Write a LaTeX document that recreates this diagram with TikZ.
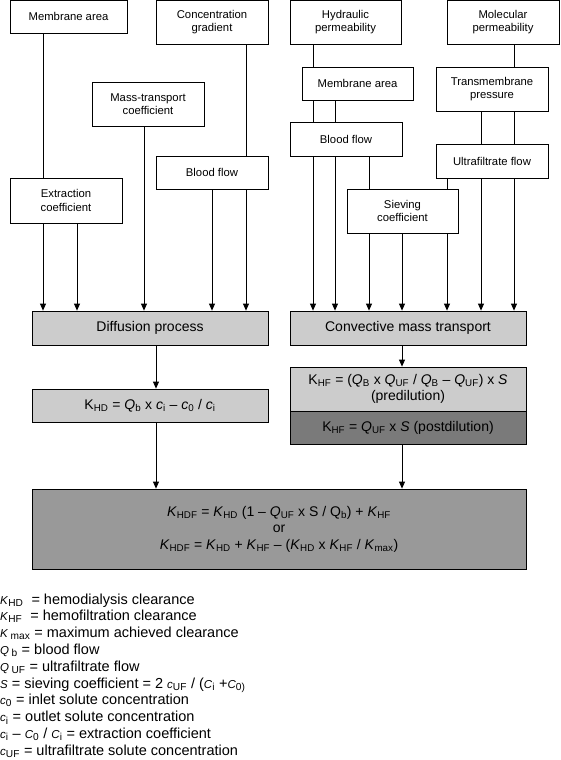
\documentclass[tikz,border=0pt]{standalone}
\usepackage{fontspec}
\setmainfont{Liberation Sans}
\usetikzlibrary{arrows.meta}
\definecolor{boxlight}{gray}{0.80}
\definecolor{boxdark}{gray}{0.48}
\definecolor{boxmid}{gray}{0.60}
\newcommand\dn[1]{\textsubscript{#1}}
\newcommand\iv[1]{{\fontsize{11.5}{12}\selectfont\textit{#1}}}
\begin{document}
\begin{tikzpicture}[x=1pt,y=-1pt,
  sbox/.style={draw=black, line width=0.8pt, fill=white, align=center, inner sep=1pt,
    font=\fontsize{11.3}{13.5}\selectfont},
  gbox/.style={draw=black, line width=0.8pt, fill=boxlight, align=center, inner sep=1pt,
    font=\fontsize{14}{16}\selectfont},
  wire/.style={line width=0.8pt},
  arr/.style={line width=0.8pt, -{Triangle[width=6pt,length=7pt]}},
  legend/.style={anchor=base west, inner sep=0pt, font=\fontsize{14.5}{15}\selectfont}]
\useasboundingbox (0,0) rectangle (560,760);
% top left group
\node[sbox, minimum width=117pt, minimum height=32.5pt] (MA1) at (68.5,16.75) {Membrane area};
\node[sbox, minimum width=112pt, minimum height=43.5pt] (CG) at (212,22.25) {Concentration\\gradient};
\node[sbox, minimum width=112pt, minimum height=44pt] (MT) at (148,104) {Mass-transport\\coefficient};
\node[sbox, minimum width=112pt, minimum height=33pt] (BF1) at (212,172.5) {Blood flow};
\node[sbox, minimum width=112pt, minimum height=45pt] (EC) at (66,200.5) {Extraction\\coefficient};
% top right group
\node[sbox, minimum width=111pt, minimum height=43.5pt] (HP) at (345.5,22.25) {Hydraulic\\permeability};
\node[sbox, minimum width=112pt, minimum height=43.5pt] (MP) at (503,22.25) {Molecular\\permeability};
\node[sbox, minimum width=111pt, minimum height=33pt] (MA2) at (357.5,83.5) {Membrane area};
\node[sbox, minimum width=112pt, minimum height=44pt] (TP) at (492,89) {Transmembrane\\pressure};
\node[sbox, minimum width=112pt, minimum height=34pt] (BF2) at (346,139) {Blood flow};
\node[sbox, minimum width=112pt, minimum height=34pt] (UF) at (492,161) {Ultrafiltrate flow};
\node[sbox, minimum width=111pt, minimum height=44pt] (SC) at (402.5,211) {Sieving\\coefficient};
% process boxes
\node[gbox, minimum width=236pt, minimum height=34pt] (DP) at (150,328) {Diffusion process};
\node[gbox, minimum width=236pt, minimum height=34pt] (CMT) at (408,328) {Convective mass transport};
\node[gbox, minimum width=236pt, minimum height=33pt] (KHD) at (150,405.5)
  {K\dn{HD} = \textit{Q}\dn{b} x \textit{c}\dn{i} – \textit{c}\dn{0} / \textit{c}\dn{i}};
\node[gbox, minimum width=236pt, minimum height=44pt] (KHF1) at (408,389)
  {K\dn{HF} = (\textit{Q}\dn{B} x \textit{Q}\dn{UF} / \textit{Q}\dn{B} – \textit{Q}\dn{UF}) x \textit{S}\\(predilution)};
\node[gbox, fill=boxdark, minimum width=236pt, minimum height=33pt] (KHF2) at (408,427.5)
  {K\dn{HF} = \textit{Q}\dn{UF} x \textit{S} (postdilution)};
\node[gbox, fill=boxmid, minimum width=494pt, minimum height=80pt, font=\fontsize{14}{16.5}\selectfont] (HDF) at (279,529)
  {\textit{K}\dn{HDF} = \textit{K}\dn{HD} (1 – \textit{Q}\dn{UF} x S / Q\dn{b}) + \textit{K}\dn{HF}\\
   or\\
   \textit{K}\dn{HDF} = \textit{K}\dn{HD} + \textit{K}\dn{HF} – (\textit{K}\dn{HD} x \textit{K}\dn{HF} / \textit{K}\dn{max})};
% left connectors
\draw[wire] (MA1.south -| 43,0) -- (EC.north -| 43,0);
\draw[arr] (EC.south -| 43,0) -- (DP.north -| 43,0);
\draw[arr] (EC.south -| 77,0) -- (DP.north -| 77,0);
\draw[arr] (MT.south -| 144,0) -- (DP.north -| 144,0);
\draw[wire] (CG.south -| 246,0) -- (BF1.north -| 246,0);
\draw[arr] (BF1.south -| 212,0) -- (DP.north -| 212,0);
\draw[arr] (BF1.south -| 246,0) -- (DP.north -| 246,0);
% right connectors
\draw[wire] (HP.south -| 313,0) -- (MA2.north -| 313,0);
\draw[wire] (MA2.south -| 313,0) -- (BF2.north -| 313,0);
\draw[wire] (MA2.south -| 335,0) -- (BF2.north -| 335,0);
\draw[arr] (BF2.south -| 313,0) -- (CMT.north -| 313,0);
\draw[arr] (BF2.south -| 335,0) -- (CMT.north -| 335,0);
\draw[wire] (BF2.south -| 369,0) -- (SC.north -| 369,0);
\draw[arr] (SC.south -| 369,0) -- (CMT.north -| 369,0);
\draw[arr] (SC.south -| 402,0) -- (CMT.north -| 402,0);
\draw[arr] (SC.south -| 447,0) -- (CMT.north -| 447,0);
\draw[wire] (UF.south -| 447,0) -- (SC.north -| 447,0);
\draw[arr] (UF.south -| 481,0) -- (CMT.north -| 481,0);
\draw[arr] (UF.south -| 514,0) -- (CMT.north -| 514,0);
\draw[wire] (MP.south -| 514,0) -- (TP.north -| 514,0);
\draw[wire] (TP.south -| 481,0) -- (UF.north -| 481,0);
\draw[wire] (TP.south -| 514,0) -- (UF.north -| 514,0);
% lower connectors
\draw[arr] (DP.south -| 156,0) -- (KHD.north -| 156,0);
\draw[arr] (KHD.south -| 156,0) -- (HDF.north -| 156,0);
\draw[arr] (CMT.south -| 402,0) -- (KHF1.north -| 402,0);
\draw[arr] (KHF2.south -| 402,0) -- (HDF.north -| 402,0);
% legend
\node[legend] (L1) at (0,604) {\iv{K}\dn{HD}\ \ = hemodialysis clearance};
\node[legend] (L2) at (0,620.8) {\iv{K}\dn{HF}\ \ = hemofiltration clearance};
\node[legend] (L3) at (0,637.6) {\iv{K}\,\dn{max} = maximum achieved clearance};
\node[legend] (L4) at (0,654.4) {\iv{Q}\,\dn{b} = blood flow};
\node[legend] (L5) at (0,671.2) {\iv{Q}\,\dn{UF} = ultrafiltrate flow};
\node[legend] (L6) at (0,688) {\iv{S} = sieving coefficient = 2 \iv{c}\dn{UF} / (\iv{C}\dn{i} +\iv{C}\dn{0)}};
\node[legend] (L7) at (0,704.8) {\iv{c}\dn{0} = inlet solute concentration};
\node[legend] (L8) at (0,721.6) {\iv{c}\dn{i} = outlet solute concentration};
\node[legend] (L9) at (0,738.4) {\iv{c}\dn{i} – \iv{C}\dn{0} / \iv{C}\dn{i} = extraction coefficient};
\node[legend] (L10) at (0,755.2) {\iv{c}\dn{UF} = ultrafiltrate solute concentration};
\end{tikzpicture}
\end{document}
